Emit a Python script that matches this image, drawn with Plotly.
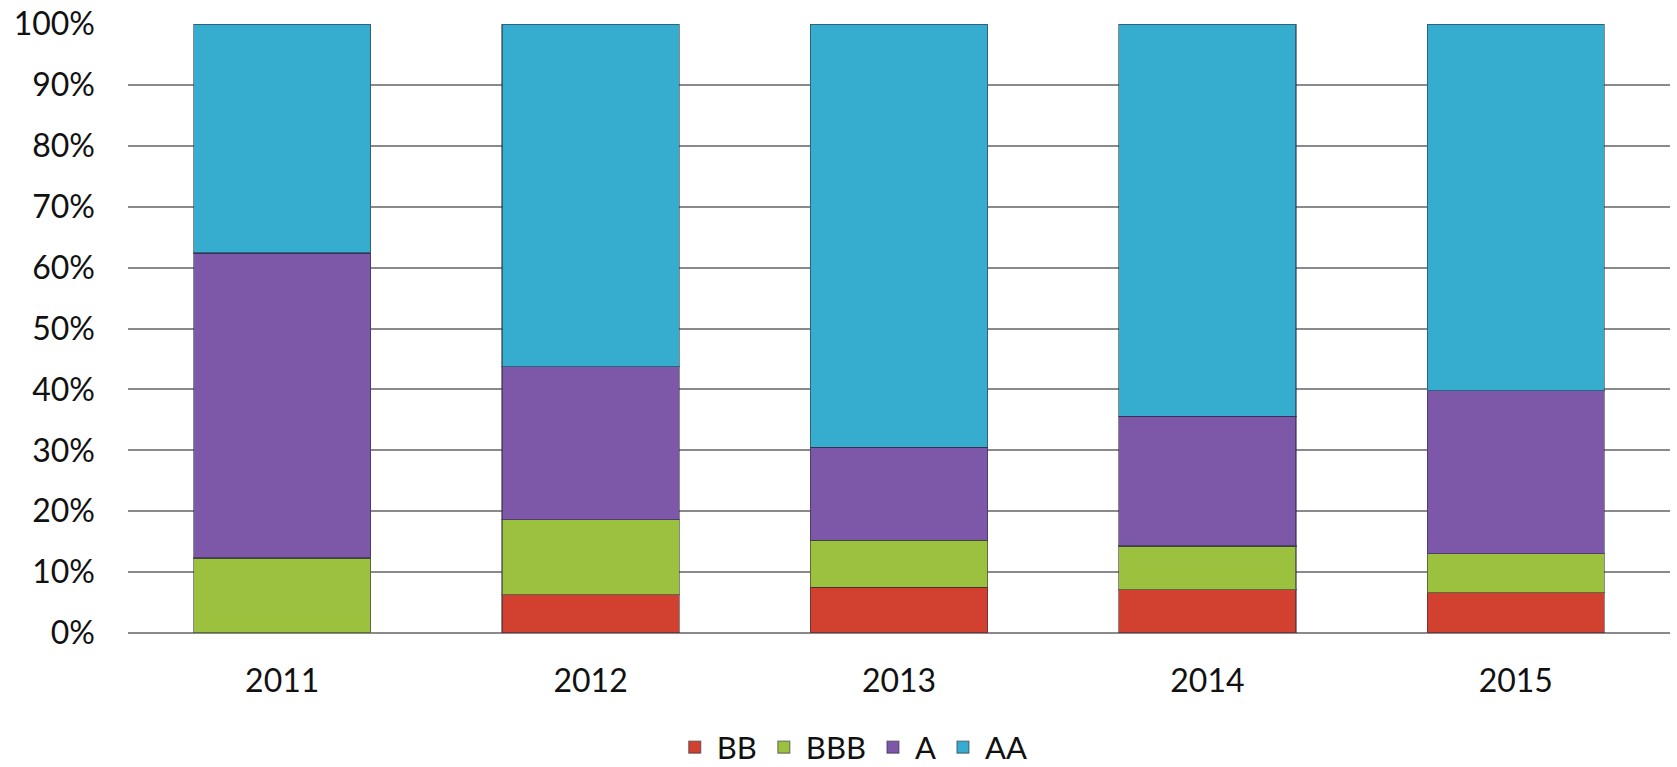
import plotly.graph_objects as go

years = ["2011", "2012", "2013", "2014", "2015"]
bb = [0.0, 6.3, 7.5, 7.1, 6.6]
bbb = [12.3, 12.3, 7.7, 7.2, 6.4]
a = [50.1, 25.1, 15.3, 21.3, 26.8]
aa = [37.6, 56.3, 69.5, 64.4, 60.2]

series = [
    ("BB", bb, "#D2412F"),
    ("BBB", bbb, "#9CC13F"),
    ("A", a, "#7D58A8"),
    ("AA", aa, "#36ACCE"),
]

fig = go.Figure()
for name, vals, col in series:
    fig.add_trace(go.Bar(
        x=years, y=[v / 100 for v in vals], name=name,
        marker=dict(color=col, line=dict(color="rgba(40,40,60,0.55)", width=1.2)),
    ))

font = dict(family="Lato, 'Open Sans', sans-serif", size=32, color="#111111")
legfont = dict(family="Lato, 'Open Sans', sans-serif", size=31, color="#111111")
fig.update_layout(
    barmode="stack",
    bargap=0.426,
    width=1677, height=767,
    margin=dict(l=128, r=7, t=24, b=134, autoexpand=False),
    paper_bgcolor="white", plot_bgcolor="white",
    font=font,
    showlegend=True,
    legend=dict(orientation="h", x=0.47, xanchor="center", y=-0.188, yanchor="middle",
                font=legfont, traceorder="normal", itemwidth=34, tracegroupgap=0,
                borderwidth=0),
    xaxis=dict(showgrid=False, showline=False, ticks="", ticklabelstandoff=26, tickfont=font),
    yaxis=dict(range=[0, 1], tickformat=".0%", dtick=0.1, showgrid=True, gridcolor="#8a8a8a",
               gridwidth=1.5, zeroline=True, zerolinecolor="#8a8a8a", zerolinewidth=1.5,
               showline=False, ticks="", ticklabelstandoff=32, tickfont=font),
)
fig.write_html("out.html")
